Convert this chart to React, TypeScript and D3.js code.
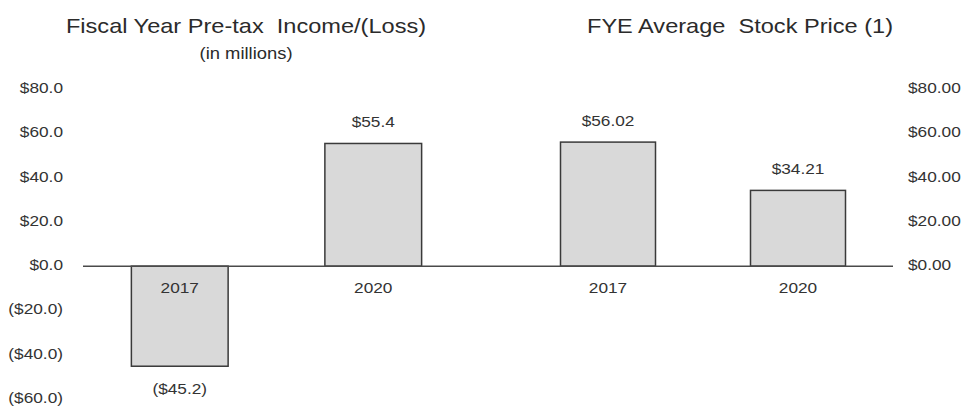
import React from "react";
import * as d3 from "d3";

const incomeYears = ["2017", "2020"];
const incomeValues = [-45.2, 55.4];
const incomeLabels = ["($45.2)", "$55.4"];
const priceYears = ["2017", "2020"];
const priceValues = [56.02, 34.21];
const priceLabels = ["$56.02", "$34.21"];
const leftTicks = [80, 60, 40, 20, 0, -20, -40, -60];
const leftTickLabels = ["$80.0", "$60.0", "$40.0", "$20.0", "$0.0", "($20.0)", "($40.0)", "($60.0)"];
const rightTicks = [80, 60, 40, 20, 0];
const rightTickLabels = ["$80.00", "$60.00", "$40.00", "$20.00", "$0.00"];

const W = 965;
const H = 407;
const SX = 1.15;
const FONT = "'Liberation Sans', Arial, sans-serif";
const TEXT = "#333";

function T({ x, y, children, size, anchor = "middle", fill = TEXT }: any) {
  return (
    <g transform={`translate(${x},${y}) scale(${SX},1)`}>
      <text
        x={0}
        y={0}
        fontSize={size}
        textAnchor={anchor}
        fill={fill}
        fontFamily={FONT}
        style={{ whiteSpace: "pre" }}
      >
        {children}
      </text>
    </g>
  );
}

export default function App() {
  const y = d3.scaleLinear().domain([-60, 80]).range([399, 89]);
  const xl = d3.scaleBand().domain(incomeYears).range([83, 470]).paddingInner(0.5).paddingOuter(0.25);
  const xr = d3.scaleBand().domain(priceYears).range([513, 893]).paddingInner(0.5).paddingOuter(0.25);
  const y0 = y(0);

  const bars = [
    ...incomeYears.map((k, i) => ({ x: xl(k)!, w: xl.bandwidth(), v: incomeValues[i], lab: incomeLabels[i], cat: k })),
    ...priceYears.map((k, i) => ({ x: xr(k)!, w: xr.bandwidth(), v: priceValues[i], lab: priceLabels[i], cat: k })),
  ];

  return (
    <svg width={W} height={H} style={{ position: "absolute", left: 0, top: 0, background: "#fff" }}>
      <rect width={W} height={H} fill="#fff" />
      <T x={246} y={33} size={20.5} fill="#2b2b2b">Fiscal Year Pre-tax  Income/(Loss)</T>
      <T x={246} y={59} size={16} fill="#2b2b2b">(in millions)</T>
      <T x={740} y={33} size={20.5} fill="#2b2b2b">FYE Average  Stock Price (1)</T>

      {leftTicks.map((t, i) => (
        <T key={"l" + i} x={63} y={y(t) + 4} size={15} anchor="end">{leftTickLabels[i]}</T>
      ))}
      {rightTicks.map((t, i) => (
        <T key={"r" + i} x={908} y={y(t) + 4} size={15} anchor="start">{rightTickLabels[i]}</T>
      ))}

      {bars.map((b, i) => {
        const top = Math.min(y(b.v), y0);
        const h = Math.abs(y(b.v) - y0);
        const cx = b.x + b.w / 2;
        return (
          <g key={i}>
            <rect x={b.x} y={top} width={b.w} height={h} fill="#d9d9d9" stroke="#3a3a3a" strokeWidth={1.5} />
            <T x={cx} y={b.v >= 0 ? y(b.v) - 16 : y(b.v) + 28} size={15}>{b.lab}</T>
            <T x={cx} y={y0 + 27} size={15}>{b.cat}</T>
          </g>
        );
      })}

      <line x1={83} x2={893} y1={y0} y2={y0} stroke="#4a4a4a" strokeWidth={1.5} />
    </svg>
  );
}
